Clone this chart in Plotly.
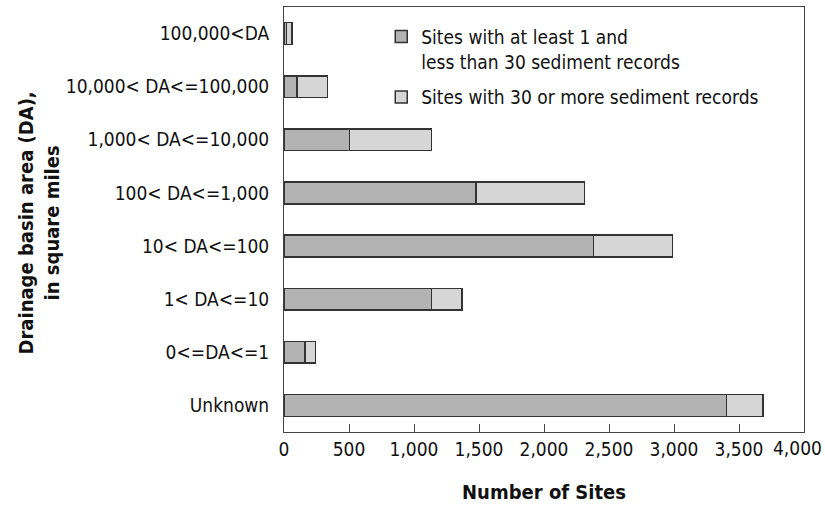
import plotly.graph_objects as go

categories = ["Unknown", "0<=DA<=1", "1< DA<=10", "10< DA<=100", "100< DA<=1,000",
              "1,000< DA<=10,000", "10,000< DA<=100,000", "100,000<DA"]
less_than_30 = [3405, 160, 1135, 2382, 1477, 505, 100, 20]
thirty_or_more = [280, 82, 234, 605, 833, 628, 236, 42]
x_ticks = [0, 500, 1000, 1500, 2000, 2500, 3000, 3500, 4000]

FONT = "Liberation Sans Narrow, DejaVu Sans Condensed, Arial Narrow, sans-serif"
ticktext = [c.replace("<", "&lt;") for c in categories]
ypos = list(range(len(categories)))

x_ticktext = [f"{v:,}" for v in x_ticks]
last_label = x_ticktext[-1]
x_ticktext[-1] = ""  # drawn as an annotation nudged left so it fits the page

fig = go.Figure()
fig.add_trace(go.Bar(
    y=ypos, x=less_than_30, orientation="h", legendgroup="a",
    name="Sites with at least 1 and<br>less than 30 sediment records",
    marker=dict(color="#b3b3b3", line=dict(color="#333333", width=1.5)),
))
fig.add_trace(go.Bar(
    y=ypos, x=thirty_or_more, orientation="h", legendgroup="b",
    name="Sites with 30 or more sediment records",
    marker=dict(color="#d6d6d6", line=dict(color="#333333", width=1.5)),
))

fig.update_layout(
    width=825, height=510,
    barmode="stack", bargap=0.59,
    paper_bgcolor="white", plot_bgcolor="white",
    margin=dict(l=284, r=21, t=7, b=78),
    font=dict(family=FONT, size=19, color="#111111"),
    showlegend=True,
    legend=dict(
        x=0.187, y=0.975, xanchor="left", yanchor="top",
        traceorder="grouped", valign="top", tracegroupgap=8,
        font=dict(family=FONT, size=19, color="#111111"),
        bgcolor="rgba(0,0,0,0)",
    ),
    xaxis=dict(
        range=[0, 4000], tickvals=x_ticks, ticktext=x_ticktext,
        ticks="inside", ticklen=8, tickcolor="#444444", tickwidth=1,
        showgrid=False, zeroline=False, automargin=False,
        showline=True, linecolor="#444444", linewidth=1, mirror=True,
        title=dict(text="<b>Number of Sites</b>", font=dict(family=FONT, size=20), standoff=26),
        tickfont=dict(family=FONT, size=19),
    ),
    yaxis=dict(
        range=[-0.5, 7.5], tickvals=ypos, ticktext=ticktext,
        ticks="", showgrid=False, zeroline=False, automargin=False,
        showline=True, linecolor="#444444", linewidth=1, mirror=True,
        ticklabelstandoff=10,
        tickfont=dict(family=FONT, size=19),
    ),
    annotations=[
        dict(
            text="<b>Drainage basin area (DA),<br>in square miles</b>",
            xref="paper", yref="paper", x=-0.472, y=0.492,
            xanchor="center", yanchor="middle", textangle=-90, showarrow=False,
            font=dict(family=FONT, size=20, color="#111111"),
        ),
        dict(
            text=last_label, xref="x", yref="paper", x=x_ticks[-1], y=0,
            xanchor="center", yanchor="top", xshift=-7, yshift=-3,
            showarrow=False, font=dict(family=FONT, size=19, color="#111111"),
        ),
    ],
)

fig.write_html("out.html", config={"displayModeBar": False},
               post_script="document.body.style.margin='0';")
